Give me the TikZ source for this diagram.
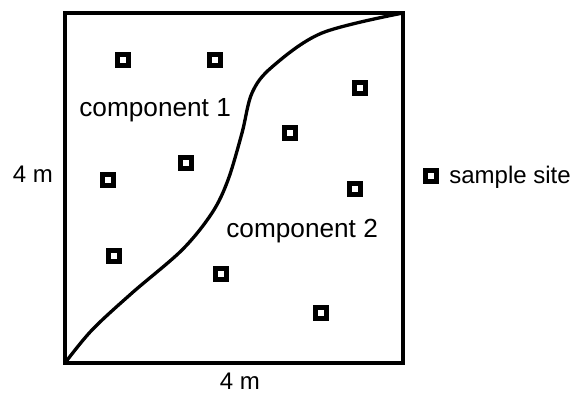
\documentclass[tikz,border=0pt]{standalone}
\usepackage{fontspec}
\setmainfont{Liberation Sans}
\usetikzlibrary{positioning}

\begin{document}
\begin{tikzpicture}[
  x=0.5pt, y=-0.5pt,
  site/.style={draw, line width=2.5pt, fill=white, minimum size=5.5pt, inner sep=0pt},
  lbl/.style={font=\fontsize{12}{14}\selectfont, inner sep=0pt},
  comp/.style={font=\fontsize{13.1}{16}\selectfont, inner sep=0pt},
  edge/.style={line width=1.65pt}
]
\useasboundingbox (0,0) rectangle (570,394);
\draw[edge] (65,13) rectangle (403,363);
% boundary between the components
\draw[edge, line cap=round] plot[smooth, tension=0.55] coordinates {(65,363) (92,330) (132,293) (182,250) (212,213) (228,180) (242,133) (252,93) (272,67) (322,33) (403,13)};
\node[comp, anchor=base west] (c1) at (79,117) {component 1};
\node[comp, anchor=base west] (c2) at (226,238) {component 2};
\node[lbl, anchor=base] (side) at (33,183) {4 m};
\node[lbl, anchor=base] (bottom) at (240,390) {4 m};
% sample sites
\node[site] (s1) at (123,60) {};
\node[site] (s2) at (215,60) {};
\node[site] (s3) at (360,88) {};
\node[site] (s4) at (290,133) {};
\node[site] (s5) at (186,163) {};
\node[site] (s6) at (108,180) {};
\node[site] (s7) at (355,189) {};
\node[site] (s8) at (114,256) {};
\node[site] (s9) at (221,274) {};
\node[site] (s10) at (321,313) {};
% key
\node[site] (key) at (431,176) {};
\node[lbl, anchor=base west] (keytext) at (449,184) {sample site};
\end{tikzpicture}
\end{document}
